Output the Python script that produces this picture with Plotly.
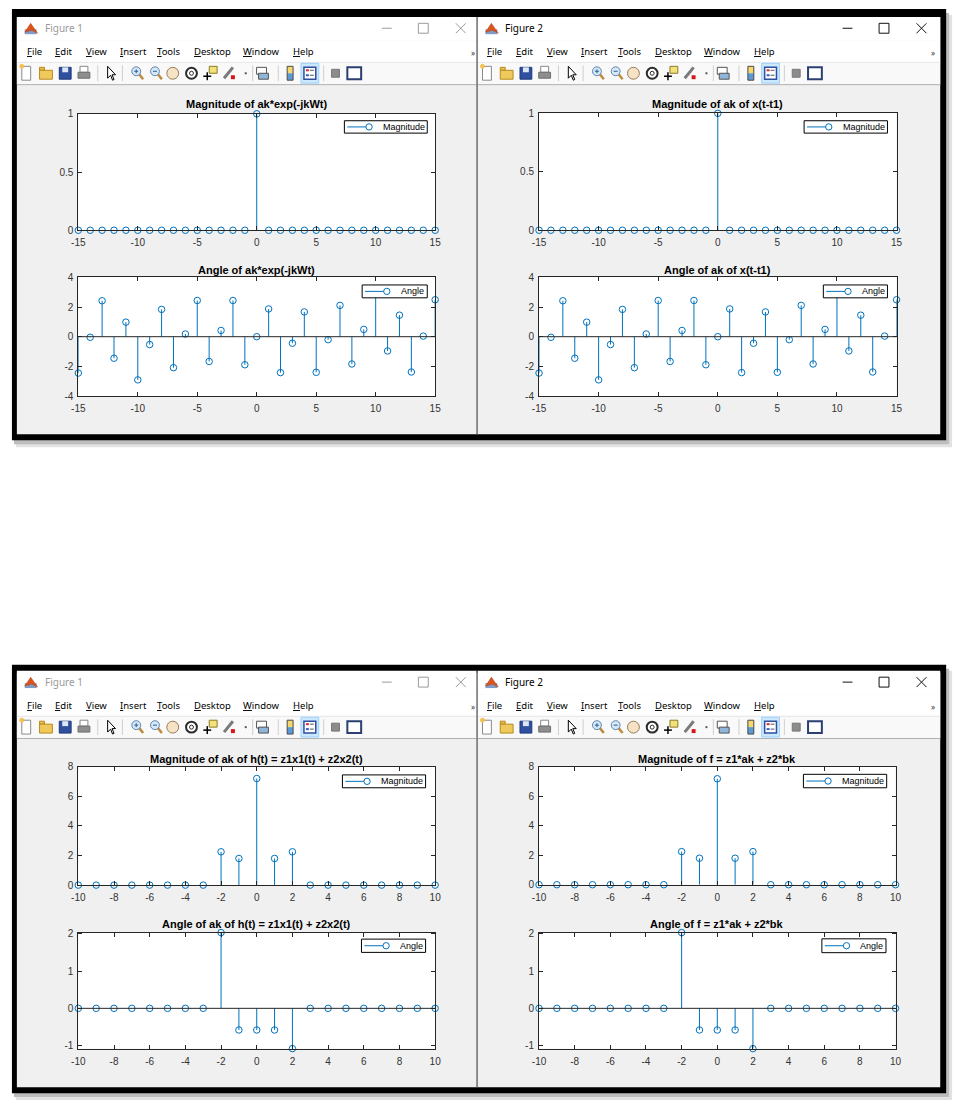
import plotly.graph_objects as go

W, H = 964, 1112

# ---- data ----
k_wide = list(range(-15, 16))
mag_exp = [0, 0, 0, 0, 0, 0, 0, 0, 0, 0, 0, 0, 0, 0, 0, 1,
           0, 0, 0, 0, 0, 0, 0, 0, 0, 0, 0, 0, 0, 0, 0]
ang_exp = [-2.45, -0.04, 2.42, -1.45, 0.98, -2.91, -0.53, 1.84, -2.09, 0.18,
           2.44, -1.67, 0.42, 2.44, -1.89, 0.0, 1.87, -2.42, -0.44, 1.67,
           -2.4, -0.2, 2.11, -1.84, 0.49, 2.9, -0.96, 1.45, -2.38, 0.04, 2.49]
mag_shift = [0, 0, 0, 0, 0, 0, 0, 0, 0, 0, 0, 0, 0, 0, 0, 1,
             0, 0, 0, 0, 0, 0, 0, 0, 0, 0, 0, 0, 0, 0, 0]
ang_shift = [-2.45, -0.04, 2.42, -1.45, 0.98, -2.91, -0.53, 1.84, -2.09, 0.18,
             2.44, -1.67, 0.42, 2.44, -1.89, 0.0, 1.87, -2.42, -0.44, 1.67,
             -2.4, -0.2, 2.11, -1.84, 0.49, 2.9, -0.96, 1.45, -2.38, 0.04, 2.49]

k_narrow = list(range(-10, 11))
mag_h = [0, 0, 0, 0, 0, 0, 0, 0, 2.25, 1.8, 7.2, 1.8, 2.25,
         0, 0, 0, 0, 0, 0, 0, 0]
ang_h = [0, 0, 0, 0, 0, 0, 0, 0, 2.03, -0.58, -0.58, -0.58, -1.08,
         0, 0, 0, 0, 0, 0, 0, 0]
mag_f = [0, 0, 0, 0, 0, 0, 0, 0, 2.25, 1.8, 7.2, 1.8, 2.25,
         0, 0, 0, 0, 0, 0, 0, 0]
ang_f = [0, 0, 0, 0, 0, 0, 0, 0, 2.03, -0.58, -0.58, -0.58, -1.08,
         0, 0, 0, 0, 0, 0, 0, 0]

menu_items = ["File", "Edit", "View", "Insert", "Tools", "Desktop", "Window", "Help"]

BLUE = "#0072BD"
AXC = "#262626"
TICKC = "#333333"


def X(px):
    return px / W


def Y(py):
    return 1 - py / H


shapes = []
annos = []


def rect(x0, y0, x1, y1, fill="rgba(0,0,0,0)", line=None, lw=0, layer="below"):
    shapes.append(dict(type="rect", xref="paper", yref="paper",
                       x0=X(x0), x1=X(x1), y0=Y(y1), y1=Y(y0), fillcolor=fill,
                       line=dict(color=line or "rgba(0,0,0,0)", width=lw), layer=layer))


def seg(x0, y0, x1, y1, color, lw=1, layer="below"):
    shapes.append(dict(type="line", xref="paper", yref="paper",
                       x0=X(x0), x1=X(x1), y0=Y(y0), y1=Y(y1),
                       line=dict(color=color, width=lw), layer=layer))


def circ(cx, cy, r, fill="rgba(0,0,0,0)", line="#000", lw=1, layer="below"):
    shapes.append(dict(type="circle", xref="paper", yref="paper",
                       x0=X(cx - r), x1=X(cx + r), y0=Y(cy + r), y1=Y(cy - r),
                       fillcolor=fill, line=dict(color=line, width=lw), layer=layer))


def poly(pts, fill, line, lw=1, layer="below"):
    d = "M " + " L ".join(f"{X(x):.5f},{Y(y):.5f}" for x, y in pts) + " Z"
    shapes.append(dict(type="path", xref="paper", yref="paper", path=d,
                       fillcolor=fill, line=dict(color=line, width=lw), layer=layer))


def txt(x, y, s, size, color="#000", family="Noto Sans", xanchor="left"):
    annos.append(dict(x=X(x), y=Y(y), xref="paper", yref="paper", text=s,
                      showarrow=False, xanchor=xanchor, yanchor="middle",
                      font=dict(size=size, color=color, family=family)))


# ---- screenshot frames ----
def frame(y0, y1):
    rect(9, y0 + 6, 958, y1 + 7, fill="#E2E2E2")
    rect(7, y0 + 4, 955, y1 + 4, fill="#BDBDBD")
    rect(5, y0, 952, y1, fill="#000000")
    rect(10, y0 + 8, 946, y1 - 6, fill="#F0F0F0")


frame(3, 439)
frame(666, 1099)


def toolbar(dx, cy):
    # new file
    rect(dx + 15, cy - 7, dx + 24, cy + 7, fill="#FFFFFF", line="#8A8A8A", lw=1)
    circ(dx + 15, cy - 7, 2, fill="#F2C14E", line="#F2C14E")
    # open
    rect(dx + 33, cy - 6, dx + 38, cy - 3, fill="#E9BE4E", line="#B98A1E", lw=1)
    rect(dx + 33, cy - 3, dx + 46, cy + 6, fill="#EFC95C", line="#B98A1E", lw=1)
    # save
    rect(dx + 53, cy - 6, dx + 65, cy + 6, fill="#2F4F9F", line="#1F3A7A", lw=1)
    rect(dx + 56, cy - 6, dx + 62, cy - 1, fill="#DDE6F5")
    # print
    rect(dx + 74, cy - 7, dx + 82, cy - 1, fill="#FFFFFF", line="#888888", lw=1)
    rect(dx + 72, cy - 1, dx + 84, cy + 5, fill="#8E8E8E", line="#6E6E6E", lw=1)
    # separators
    for sx in (92, 117, 249, 275, 321):
        seg(dx + sx, cy - 8, dx + sx, cy + 8, "#CFCFCF")
    # pointer
    poly([(dx + 102, cy - 7), (dx + 102, cy + 5), (dx + 105, cy + 2), (dx + 107, cy + 7),
          (dx + 108.5, cy + 6.3), (dx + 106.5, cy + 1.5), (dx + 110, cy + 1.5)],
         "#FFFFFF", "#000000", 1)
    # zoom in / zoom out
    for zx in (132, 151):
        seg(dx + zx + 2, cy + 1, dx + zx + 6, cy + 6, "#C08A3E", 2.5)
        circ(dx + zx - 1, cy - 2, 4.5, fill="#D6E8F7", line="#5F86B0", lw=1)
        seg(dx + zx - 3, cy - 2, dx + zx + 1, cy - 2, "#2F5E93", 1)
    seg(dx + 131, cy - 4, dx + 131, cy, "#2F5E93", 1)
    # pan hand
    circ(dx + 168, cy, 6, fill="#F6E3C6", line="#9A7B5A", lw=1)
    # rotate
    circ(dx + 187, cy, 5.5, fill="#FFFFFF", line="#2B2B2B", lw=2)
    circ(dx + 187, cy, 2, fill="#FFFFFF", line="#2B2B2B", lw=1)
    # data cursor
    rect(dx + 205, cy - 7, dx + 213, cy, fill="#F3E27A", line="#8C7A2A", lw=1)
    seg(dx + 199, cy + 3, dx + 207, cy + 3, "#000000", 1.5)
    seg(dx + 203, cy - 1, dx + 203, cy + 7, "#000000", 1.5)
    # brush
    seg(dx + 220, cy + 5, dx + 229, cy - 6, "#7A7A7A", 3)
    rect(dx + 227, cy + 2, dx + 231, cy + 6, fill="#D7141A")
    rect(dx + 241, cy - 1, dx + 243, cy + 1, fill="#555555")
    # link
    rect(dx + 253, cy - 6, dx + 263, cy + 1, fill="#FFFFFF", line="#555555", lw=1)
    rect(dx + 255, cy, dx + 265, cy + 6, fill="#8FB5D9", line="#555555", lw=1)
    # colorbar
    rect(dx + 284, cy - 7, dx + 290, cy, fill="#F5D76E")
    rect(dx + 284, cy, dx + 290, cy + 7, fill="#5B9BD5")
    rect(dx + 284, cy - 7, dx + 290, cy + 7, line="#4A4A4A", lw=1)
    # legend (pressed)
    rect(dx + 298, cy - 10, dx + 316, cy + 10, fill="#CCE8FF", line="#99D1FF", lw=1)
    rect(dx + 301, cy - 6, dx + 313, cy + 6, fill="#FFFFFF", line="#2E4E9E", lw=1.5)
    rect(dx + 303, cy - 4, dx + 306, cy - 2, fill="#D03030")
    rect(dx + 303, cy + 1, dx + 306, cy + 3, fill="#3060C0")
    seg(dx + 307, cy - 3, dx + 311, cy - 3, "#555555", 1)
    seg(dx + 307, cy + 2, dx + 311, cy + 2, "#555555", 1)
    # plain square / window
    rect(dx + 329, cy - 4, dx + 337, cy + 4, fill="#8C8C8C", line="#777777", lw=1)
    rect(dx + 345, cy - 6, dx + 359, cy + 6, fill="#FFFFFF", line="#2B3F73", lw=2)


def chrome(xl, xr, dx, dy, title, active):
    rect(xl, 11 + dy, xr, 35 + dy, fill="#FFFFFF")
    rect(xl, 35 + dy, xr, 57 + dy, fill="#FFFFFF")
    rect(xl, 57 + dy, xr, 79 + dy, fill="#F9F9F9")
    seg(xl, 57 + dy, xr, 57 + dy, "#E6E6E6")
    seg(xl, 79.5 + dy, xr, 79.5 + dy, "#B0B0B0")
    # MATLAB icon
    ty = 22.5 + dy
    rect(dx + 18, ty + 1, dx + 30, ty + 6, fill="#7F9CC8")
    poly([(dx + 18, ty + 4), (dx + 24, ty - 5), (dx + 31, ty + 5), (dx + 25, ty + 2)],
         "#D9541E", "#B8400F", 0.5)
    tc = "#000000" if active else "#9A9A9A"
    txt(dx + 36, ty, title, 10, color=tc)
    cc = "#111111" if active else "#9A9A9A"
    seg(dx + 380, ty, dx + 390, ty, cc, 1)
    rect(dx + 417, ty - 5, dx + 427, ty + 5, line=cc, lw=1)
    seg(dx + 455, ty - 5, dx + 465, ty + 5, cc, 1)
    seg(dx + 455, ty + 5, dx + 465, ty - 5, cc, 1)
    # menu
    mx = [18, 47, 78, 113, 150, 188, 237, 288]
    for item, x0 in zip(menu_items, mx):
        label = "<u>" + item[0] + "</u>" + item[1:]
        txt(dx + x0, 46 + dy, label, 9.5, color="#000000")
    txt(dx + 472, 47 + dy, "»", 8, color="#333333", xanchor="center")
    toolbar(dx, 68 + dy)


chrome(10, 476, 0, 0, "Figure 1", False)
chrome(477, 946, 467, 0, "Figure 2", True)
chrome(10, 476, 0, 661, "Figure 1", False)
chrome(477, 946, 467, 661, "Figure 2", True)
seg(476.5, 11, 476.5, 433, "#6E6E6E", 1.5)
seg(476.5, 672, 476.5, 1093, "#6E6E6E", 1.5)

# ---- stem panels ----
panels = [
    # k, values, (left, right, top, bottom) px, xrange, yrange, xticks, yticks,
    # title, title y, legend name, legend box
    (k_wide, mag_exp, (72.3, 434, 109, 226.7), [-15, 15], [0, 1], [-15, -10, -5, 0, 5, 10, 15],
     [0, 0.5, 1], "Magnitude of ak*exp(-jkWt)", 99.5, "Magnitude", (342, 116, 426, 128.5)),
    (k_wide, ang_exp, (72.3, 434, 274.3, 394.3), [-15, 15], [-4, 4], [-15, -10, -5, 0, 5, 10, 15],
     [-4, -2, 0, 2, 4], "Angle of ak*exp(-jkWt)", 266.7, "Angle", (360, 282, 426, 295)),
    (k_wide, mag_shift, (539.3, 901.7, 108.5, 226.7), [-15, 15], [0, 1], [-15, -10, -5, 0, 5, 10, 15],
     [0, 0.5, 1], "Magnitude of ak of x(t-t1)", 99.5, "Magnitude", (808, 116, 892.5, 128.5)),
    (k_wide, ang_shift, (539.3, 901.7, 274.3, 394.3), [-15, 15], [-4, 4], [-15, -10, -5, 0, 5, 10, 15],
     [-4, -2, 0, 2, 4], "Angle of ak of x(t-t1)", 266.7, "Angle", (827.5, 282, 892.5, 295)),
    (k_narrow, mag_h, (72.3, 434, 769, 888.7), [-10, 10], [0, 8], list(range(-10, 11, 2)),
     [0, 2, 4, 6, 8], "Magnitude of ak of h(t) = z1x1(t) + z2x2(t)", 761, "Magnitude",
     (340, 777.3, 424.3, 790.3)),
    (k_narrow, ang_h, (72.3, 434, 936.7, 1054), [-10, 10], [-1.08, 2.03], list(range(-10, 11, 2)),
     [-1, 0, 1, 2], "Angle of ak of h(t) = z1x1(t) + z2x2(t)", 928.3, "Angle",
     (359.3, 943.3, 424.3, 956.7)),
    (k_narrow, mag_f, (539.3, 900.7, 769.3, 888.3), [-10, 10], [0, 8], list(range(-10, 11, 2)),
     [0, 2, 4, 6, 8], "Magnitude of f = z1*ak + z2*bk", 761.5, "Magnitude",
     (807.3, 776.7, 891.7, 790.3)),
    (k_narrow, ang_f, (539.3, 900.7, 936.7, 1054), [-10, 10], [-1.08, 2.03], list(range(-10, 11, 2)),
     [-1, 0, 1, 2], "Angle of f = z1*ak + z2*bk", 927.7, "Angle",
     (826, 943, 891, 957)),
]

fig = go.Figure()
layout_axes = {}

for i, (k, vals, box, xr, yr, xt, yt, title, title_y, name, lg) in enumerate(panels, start=1):
    left, right, top, bottom = box
    xa = "x" if i == 1 else f"x{i}"
    ya = "y" if i == 1 else f"y{i}"
    # white plot area
    rect(left, top, right, bottom, fill="#FFFFFF")
    sx, sy = [], []
    for kk, v in zip(k, vals):
        sx += [kk, kk, None]
        sy += [0, v, None]
    fig.add_trace(go.Scatter(x=sx, y=sy, mode="lines", xaxis=xa, yaxis=ya,
                             line=dict(color=BLUE, width=1), showlegend=False,
                             hoverinfo="skip"))
    if yr[0] < 0:
        shapes.append(dict(type="line", xref=f"{xa} domain", yref=ya, x0=0, x1=1, y0=0, y1=0,
                           line=dict(color=AXC, width=1), layer="above"))
    fig.add_trace(go.Scatter(x=k, y=vals, mode="markers", name=name, xaxis=xa, yaxis=ya,
                             cliponaxis=False, showlegend=False,
                             marker=dict(symbol="circle-open", size=6.5,
                                         color=BLUE, line=dict(width=1, color=BLUE))))
    common = dict(showline=True, linecolor=AXC, linewidth=1, mirror="ticks", ticks="inside",
                  ticklen=4, tickcolor=AXC, showgrid=False, zeroline=False,
                  tickfont=dict(size=10, color=TICKC, family="Liberation Sans"))
    layout_axes["xaxis" if i == 1 else f"xaxis{i}"] = dict(
        domain=[X(left), X(right)], range=xr, anchor=ya, tickvals=xt,
        ticktext=[str(v) for v in xt], ticklabelstandoff=3, **common)
    layout_axes["yaxis" if i == 1 else f"yaxis{i}"] = dict(
        domain=[Y(bottom), Y(top)], range=yr, anchor=xa, tickvals=yt,
        ticktext=[str(v) for v in yt], ticklabelstandoff=2, **common)
    # title
    txt((left + right) / 2, title_y, "<b>" + title + "</b>", 11, color="#000000",
        family="Liberation Sans", xanchor="center")
    # legend box
    lx0, ly0, lx1, ly1 = lg
    my = (ly0 + ly1) / 2
    rect(lx0, ly0, lx1, ly1, fill="#FFFFFF", line="#000000", lw=1, layer="above")
    mx = lx0 + 25
    seg(lx0 + 3, my, mx, my, BLUE, 1, layer="above")
    circ(mx, my, 3.2, fill="#FFFFFF", line=BLUE, lw=1, layer="above")
    txt(mx + 12, my, name, 9, color="#000000", family="Liberation Sans")

fig.update_layout(
    width=W, height=H, margin=dict(l=0, r=0, t=0, b=0),
    paper_bgcolor="#FFFFFF", plot_bgcolor="rgba(0,0,0,0)",
    showlegend=False, shapes=shapes, annotations=annos,
    font=dict(family="Liberation Sans"),
    **layout_axes,
)

fig.write_html("out.html", config={"displayModeBar": False},
               post_script="document.documentElement.style.margin='0';"
                           "document.body.style.margin='0';"
                           "document.body.style.overflow='hidden';")
